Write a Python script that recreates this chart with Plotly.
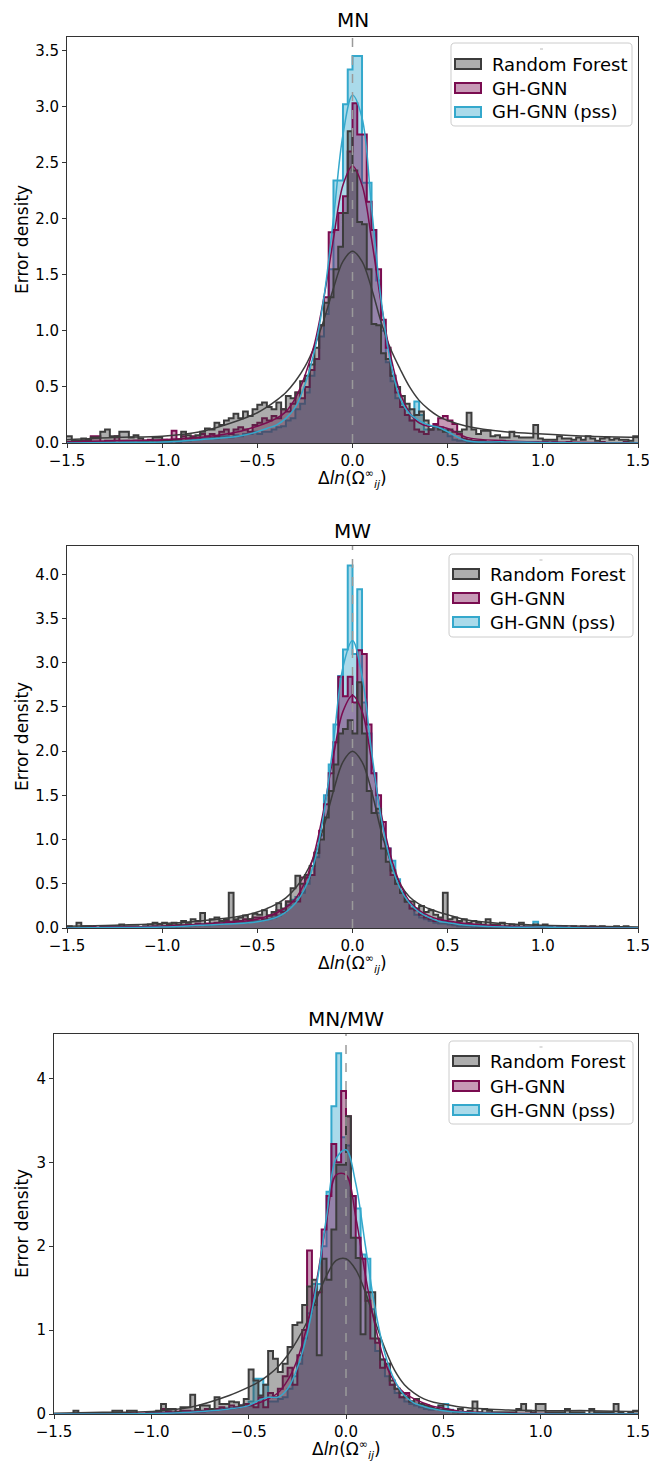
import numpy as np
import plotly.graph_objects as go

# ---- data -----------------------------------------------------------------
# shared histogram bin edges (width 0.025 between -1.5 and 1.5)
BIN_EDGES = np.round(np.arange(-1.5, 1.5 + 1e-9, 0.025), 4)

# density per bin, 10 bins per row (each row = 0.25 units)
MN_RF = [
    0.06, 0.02, 0.02, 0.04, 0.03, 0.05, 0.05, 0.10, 0.12, 0.06,
    0.06, 0.10, 0.10, 0.05, 0.07, 0.04, 0.02, 0.02, 0.05, 0.05,
    0.02, 0.02, 0.03, 0.03, 0.10, 0.07, 0.05, 0.07, 0.10, 0.13,
    0.12, 0.18, 0.16, 0.20, 0.22, 0.26, 0.22, 0.28, 0.24, 0.30,
    0.34, 0.36, 0.32, 0.30, 0.36, 0.30, 0.42, 0.40, 0.45, 0.55,
    0.60, 0.70, 0.85, 1.05, 1.25, 1.30, 1.55, 1.75, 2.05, 2.78,
    2.43, 1.97, 1.95, 1.55, 1.06, 1.05, 0.80, 0.75, 0.60, 0.50,
    0.42, 0.35, 0.30, 0.25, 0.28, 0.20, 0.12, 0.15, 0.12, 0.10,
    0.12, 0.10, 0.10, 0.12, 0.27, 0.12, 0.08, 0.11, 0.11, 0.06,
    0.07, 0.05, 0.05, 0.10, 0.06, 0.05, 0.05, 0.05, 0.16, 0.04,
    0.03, 0.03, 0.03, 0.06, 0.04, 0.04, 0.03, 0.05, 0.03, 0.06,
    0.04, 0.02, 0.04, 0.05, 0.03, 0.04, 0.03, 0.03, 0.02, 0.06,
]
MN_GNN = [
    0.01, 0.01, 0.01, 0.02, 0.02, 0.06, 0.06, 0.01, 0.02, 0.02,
    0.06, 0.02, 0.02, 0.01, 0.02, 0.01, 0.02, 0.03, 0.02, 0.02,
    0.03, 0.02, 0.11, 0.03, 0.06, 0.04, 0.06, 0.05, 0.08, 0.06,
    0.08, 0.06, 0.10, 0.12, 0.08, 0.12, 0.14, 0.12, 0.10, 0.16,
    0.18, 0.22, 0.20, 0.24, 0.22, 0.30, 0.28, 0.35, 0.45, 0.40,
    0.50, 0.65, 0.75, 1.05, 1.30, 1.88, 1.90, 2.05, 2.20, 2.60,
    3.03, 2.75, 2.75, 2.15, 1.90, 1.55, 1.10, 0.85, 0.60, 0.45,
    0.32, 0.25, 0.20, 0.12, 0.10, 0.08, 0.12, 0.17, 0.22, 0.24,
    0.20, 0.17, 0.08, 0.04, 0.03, 0.02, 0.02, 0.02, 0.01, 0.01,
    0.01, 0.02, 0.01, 0.01, 0.01, 0.01, 0.00, 0.01, 0.01, 0.00,
    0.01, 0.00, 0.01, 0.00, 0.00, 0.01, 0.00, 0.00, 0.00, 0.00,
    0.00, 0.00, 0.01, 0.00, 0.00, 0.00, 0.00, 0.01, 0.00, 0.00,
]
MN_PSS = [
    0.00, 0.00, 0.00, 0.00, 0.00, 0.00, 0.00, 0.00, 0.00, 0.01,
    0.00, 0.00, 0.01, 0.00, 0.00, 0.00, 0.01, 0.00, 0.00, 0.01,
    0.01, 0.01, 0.02, 0.01, 0.02, 0.02, 0.03, 0.03, 0.04, 0.04,
    0.05, 0.04, 0.06, 0.06, 0.05, 0.07, 0.06, 0.08, 0.08, 0.10,
    0.08, 0.10, 0.10, 0.12, 0.14, 0.15, 0.20, 0.22, 0.30, 0.35,
    0.45, 0.60, 0.75, 0.95, 1.15, 1.55, 2.34, 2.34, 3.02, 3.33,
    3.45, 3.45, 2.32, 2.32, 1.90, 1.45, 1.00, 0.72, 0.55, 0.40,
    0.35, 0.30, 0.20, 0.37, 0.25, 0.12, 0.12, 0.14, 0.14, 0.12,
    0.06, 0.03, 0.02, 0.02, 0.01, 0.01, 0.01, 0.01, 0.00, 0.00,
    0.00, 0.00, 0.01, 0.00, 0.00, 0.00, 0.00, 0.00, 0.00, 0.00,
    0.00, 0.00, 0.00, 0.00, 0.00, 0.00, 0.00, 0.00, 0.00, 0.00,
    0.00, 0.00, 0.00, 0.00, 0.00, 0.00, 0.00, 0.00, 0.00, 0.00,
]

MW_RF = [
    0.02, 0.00, 0.06, 0.02, 0.02, 0.00, 0.00, 0.02, 0.02, 0.00,
    0.02, 0.04, 0.02, 0.02, 0.02, 0.00, 0.02, 0.04, 0.06, 0.04,
    0.06, 0.04, 0.06, 0.04, 0.08, 0.06, 0.10, 0.08, 0.17, 0.04,
    0.10, 0.12, 0.08, 0.10, 0.40, 0.10, 0.12, 0.14, 0.10, 0.16,
    0.15, 0.20, 0.14, 0.18, 0.28, 0.22, 0.30, 0.45, 0.59, 0.50,
    0.60, 0.70, 0.85, 1.00, 1.25, 1.55, 1.85, 2.20, 2.25, 2.35,
    2.20, 2.78, 2.20, 1.55, 1.30, 1.35, 0.90, 0.75, 0.65, 0.50,
    0.40, 0.30, 0.30, 0.22, 0.25, 0.18, 0.20, 0.15, 0.12, 0.40,
    0.10, 0.12, 0.08, 0.10, 0.06, 0.08, 0.06, 0.04, 0.10, 0.04,
    0.04, 0.06, 0.02, 0.04, 0.02, 0.06, 0.02, 0.02, 0.04, 0.02,
    0.04, 0.02, 0.00, 0.02, 0.02, 0.00, 0.02, 0.00, 0.02, 0.00,
    0.02, 0.00, 0.02, 0.00, 0.00, 0.02, 0.00, 0.02, 0.00, 0.00,
]
MW_GNN = [
    0.00, 0.00, 0.00, 0.00, 0.00, 0.01, 0.00, 0.00, 0.00, 0.01,
    0.00, 0.01, 0.00, 0.01, 0.01, 0.00, 0.01, 0.01, 0.02, 0.01,
    0.02, 0.02, 0.03, 0.02, 0.03, 0.04, 0.03, 0.05, 0.04, 0.05,
    0.05, 0.06, 0.05, 0.08, 0.07, 0.08, 0.08, 0.10, 0.10, 0.12,
    0.12, 0.10, 0.14, 0.15, 0.20, 0.18, 0.30, 0.30, 0.30, 0.57,
    0.57, 0.60, 0.85, 1.10, 1.40, 1.75, 2.10, 2.84, 2.62, 2.84,
    2.55, 3.14, 3.10, 2.30, 1.75, 1.50, 1.20, 0.90, 0.60, 0.50,
    0.40, 0.30, 0.22, 0.20, 0.15, 0.12, 0.10, 0.08, 0.10, 0.08,
    0.06, 0.05, 0.05, 0.04, 0.04, 0.03, 0.02, 0.02, 0.02, 0.01,
    0.01, 0.01, 0.01, 0.01, 0.00, 0.01, 0.00, 0.00, 0.01, 0.00,
    0.00, 0.00, 0.00, 0.00, 0.00, 0.00, 0.00, 0.00, 0.00, 0.00,
    0.00, 0.00, 0.00, 0.00, 0.00, 0.00, 0.00, 0.00, 0.00, 0.00,
]
MW_PSS = [
    0.00, 0.00, 0.00, 0.00, 0.00, 0.00, 0.00, 0.00, 0.00, 0.00,
    0.00, 0.00, 0.00, 0.00, 0.00, 0.00, 0.00, 0.01, 0.00, 0.01,
    0.01, 0.01, 0.01, 0.02, 0.02, 0.02, 0.03, 0.03, 0.04, 0.03,
    0.04, 0.04, 0.05, 0.05, 0.06, 0.06, 0.07, 0.06, 0.08, 0.08,
    0.08, 0.10, 0.10, 0.12, 0.14, 0.20, 0.26, 0.32, 0.35, 0.40,
    0.50, 0.60, 0.80, 1.05, 1.50, 1.85, 2.30, 2.85, 3.15, 4.10,
    3.10, 3.83, 2.55, 2.20, 1.75, 1.30, 1.00, 0.90, 0.76, 0.55,
    0.40, 0.30, 0.22, 0.15, 0.12, 0.10, 0.08, 0.06, 0.05, 0.05,
    0.04, 0.03, 0.02, 0.02, 0.02, 0.01, 0.01, 0.01, 0.01, 0.01,
    0.01, 0.00, 0.00, 0.01, 0.00, 0.00, 0.01, 0.00, 0.07, 0.00,
    0.00, 0.00, 0.00, 0.00, 0.00, 0.00, 0.00, 0.00, 0.00, 0.00,
    0.00, 0.00, 0.00, 0.00, 0.00, 0.00, 0.00, 0.00, 0.00, 0.00,
]

MNMW_RF = [
    0.00, 0.00, 0.00, 0.00, 0.04, 0.00, 0.00, 0.00, 0.00, 0.00,
    0.00, 0.00, 0.04, 0.04, 0.00, 0.04, 0.04, 0.00, 0.00, 0.02,
    0.02, 0.04, 0.12, 0.06, 0.06, 0.02, 0.08, 0.08, 0.23, 0.06,
    0.10, 0.10, 0.06, 0.20, 0.12, 0.12, 0.15, 0.14, 0.10, 0.18,
    0.53, 0.40, 0.22, 0.35, 0.75, 0.66, 0.50, 0.60, 0.80, 1.06,
    1.09, 1.30, 1.52, 1.60, 0.70, 1.85, 1.60, 2.20, 2.97, 2.97,
    3.55, 2.10, 1.86, 0.95, 1.45, 1.45, 0.90, 0.65, 0.60, 0.40,
    0.30, 0.25, 0.20, 0.15, 0.18, 0.12, 0.10, 0.08, 0.06, 0.10,
    0.06, 0.04, 0.02, 0.06, 0.02, 0.04, 0.15, 0.02, 0.06, 0.04,
    0.02, 0.02, 0.02, 0.02, 0.02, 0.06, 0.12, 0.04, 0.02, 0.12,
    0.12, 0.02, 0.02, 0.02, 0.02, 0.06, 0.02, 0.02, 0.02, 0.00,
    0.06, 0.02, 0.02, 0.02, 0.02, 0.12, 0.02, 0.00, 0.02, 0.04,
]
MNMW_GNN = [
    0.00, 0.00, 0.00, 0.00, 0.00, 0.00, 0.00, 0.00, 0.00, 0.00,
    0.00, 0.00, 0.00, 0.00, 0.00, 0.00, 0.00, 0.00, 0.00, 0.01,
    0.01, 0.02, 0.06, 0.03, 0.02, 0.03, 0.04, 0.04, 0.03, 0.05,
    0.04, 0.06, 0.05, 0.06, 0.08, 0.06, 0.10, 0.08, 0.10, 0.12,
    0.10, 0.08, 0.20, 0.08, 0.25, 0.20, 0.30, 0.45, 0.55, 0.35,
    0.70, 1.00, 1.95, 1.30, 1.45, 2.20, 2.60, 3.22, 3.00, 3.85,
    3.55, 2.60, 2.10, 1.85, 1.35, 0.90, 0.85, 0.55, 0.60, 0.35,
    0.30, 0.20, 0.25, 0.15, 0.18, 0.12, 0.10, 0.08, 0.06, 0.05,
    0.05, 0.04, 0.03, 0.02, 0.02, 0.01, 0.01, 0.01, 0.01, 0.01,
    0.01, 0.01, 0.00, 0.00, 0.00, 0.00, 0.00, 0.00, 0.00, 0.00,
    0.00, 0.00, 0.00, 0.00, 0.00, 0.00, 0.00, 0.00, 0.00, 0.00,
    0.00, 0.00, 0.00, 0.00, 0.00, 0.00, 0.00, 0.00, 0.00, 0.00,
]
MNMW_PSS = [
    0.00, 0.00, 0.00, 0.00, 0.00, 0.00, 0.00, 0.00, 0.00, 0.00,
    0.00, 0.00, 0.00, 0.00, 0.00, 0.00, 0.00, 0.00, 0.00, 0.00,
    0.00, 0.00, 0.01, 0.01, 0.01, 0.02, 0.02, 0.02, 0.03, 0.03,
    0.03, 0.04, 0.05, 0.05, 0.06, 0.07, 0.07, 0.08, 0.10, 0.12,
    0.15, 0.42, 0.42, 0.35, 0.15, 0.15, 0.18, 0.20, 0.30, 0.45,
    0.60, 0.90, 1.20, 1.55, 1.55, 2.00, 2.65, 3.67, 4.30, 3.30,
    3.20, 2.60, 2.45, 1.90, 1.85, 1.25, 0.75, 0.65, 0.45, 0.35,
    0.25, 0.20, 0.15, 0.12, 0.10, 0.08, 0.06, 0.05, 0.06, 0.10,
    0.12, 0.05, 0.03, 0.02, 0.02, 0.01, 0.01, 0.01, 0.00, 0.00,
    0.00, 0.00, 0.00, 0.00, 0.00, 0.00, 0.00, 0.00, 0.00, 0.00,
    0.00, 0.00, 0.00, 0.00, 0.00, 0.00, 0.00, 0.00, 0.00, 0.00,
    0.00, 0.00, 0.00, 0.00, 0.00, 0.00, 0.00, 0.00, 0.00, 0.00,
]

# kde curves, read at these x positions
KDE_X = [-1.5, -1.25, -1.0, -0.8, -0.6, -0.5, -0.45, -0.4, -0.35, -0.3, -0.25,
         -0.2, -0.15, -0.1, -0.05, 0.0, 0.05, 0.1, 0.15, 0.2, 0.25, 0.3, 0.35,
         0.4, 0.45, 0.5, 0.6, 0.8, 1.0, 1.25, 1.5]

MN_RF_KDE = [0.03, 0.05, 0.06, 0.10, 0.20, 0.27, 0.32, 0.38, 0.45, 0.55, 0.68,
             0.86, 1.10, 1.38, 1.62, 1.71, 1.62, 1.38, 1.08, 0.84, 0.66, 0.50,
             0.38, 0.30, 0.24, 0.20, 0.15, 0.10, 0.08, 0.06, 0.05]
MN_GNN_KDE = [0.01, 0.02, 0.03, 0.05, 0.10, 0.15, 0.18, 0.22, 0.28, 0.40, 0.60,
              0.88, 1.30, 1.82, 2.30, 2.47, 2.30, 1.82, 1.25, 0.78, 0.45, 0.27,
              0.18, 0.15, 0.15, 0.13, 0.05, 0.02, 0.01, 0.005, 0.0]
MN_PSS_KDE = [0.0, 0.005, 0.01, 0.03, 0.06, 0.10, 0.13, 0.16, 0.22, 0.32, 0.52,
              0.82, 1.30, 2.00, 2.75, 3.10, 2.90, 2.10, 1.28, 0.72, 0.40, 0.26,
              0.20, 0.16, 0.14, 0.10, 0.02, 0.01, 0.005, 0.0, 0.0]

MW_RF_KDE = [0.02, 0.03, 0.05, 0.08, 0.13, 0.18, 0.22, 0.27, 0.34, 0.45, 0.60,
             0.82, 1.15, 1.55, 1.88, 2.00, 1.88, 1.55, 1.10, 0.75, 0.50, 0.35,
             0.27, 0.22, 0.18, 0.15, 0.09, 0.05, 0.03, 0.02, 0.01]
MW_GNN_KDE = [0.0, 0.01, 0.02, 0.04, 0.07, 0.10, 0.13, 0.17, 0.23, 0.33, 0.52,
              0.85, 1.35, 1.95, 2.45, 2.63, 2.45, 1.90, 1.30, 0.82, 0.50, 0.30,
              0.20, 0.14, 0.10, 0.08, 0.05, 0.02, 0.01, 0.005, 0.0]
MW_PSS_KDE = [0.0, 0.005, 0.01, 0.03, 0.05, 0.07, 0.09, 0.12, 0.18, 0.28, 0.45,
              0.75, 1.30, 2.10, 2.95, 3.25, 2.85, 2.00, 1.25, 0.75, 0.45, 0.28,
              0.18, 0.12, 0.08, 0.06, 0.03, 0.01, 0.01, 0.0, 0.0]

MNMW_RF_KDE = [0.01, 0.02, 0.03, 0.08, 0.22, 0.32, 0.38, 0.46, 0.56, 0.70, 0.88,
               1.10, 1.38, 1.65, 1.83, 1.85, 1.72, 1.45, 1.10, 0.78, 0.52, 0.35,
               0.25, 0.18, 0.14, 0.12, 0.08, 0.05, 0.04, 0.04, 0.03]
MNMW_GNN_KDE = [0.0, 0.0, 0.01, 0.02, 0.06, 0.10, 0.13, 0.18, 0.25, 0.40, 0.65,
                1.05, 1.60, 2.30, 2.85, 2.85, 2.35, 1.65, 1.05, 0.62, 0.38, 0.25,
                0.18, 0.13, 0.09, 0.07, 0.03, 0.01, 0.005, 0.0, 0.0]
MNMW_PSS_KDE = [0.0, 0.0, 0.005, 0.02, 0.06, 0.10, 0.16, 0.20, 0.20, 0.30, 0.55,
                0.95, 1.55, 2.35, 3.05, 3.15, 2.75, 2.00, 1.25, 0.72, 0.40, 0.22,
                0.13, 0.09, 0.06, 0.04, 0.02, 0.005, 0.0, 0.0, 0.0]

MODELS = ["Random Forest", "GH-GNN", "GH-GNN (pss)"]
PANEL_TITLES = ["MN", "MW", "MN/MW"]
X_LABEL = ("Δ<i>ln</i>(Ω<sup><span style='font-size:11px'>∞</span></sup>"
           "<sub><span style='font-size:11px'><i>ij</i></span></sub>)")

# ---- styling / geometry ---------------------------------------------------
W, H = 649, 1463
ML, MR, MT, MB = 54, 11, 37, 49
PW, PH = W - ML - MR, H - MT - MB
BASE = H - MB
FONT = "DejaVu Sans"

EDGE = ["#3c3c3c", "#7a0c50", "#34a8cc"]
FILL = ["rgba(60,60,60,0.42)", "rgba(122,12,80,0.42)", "rgba(52,168,204,0.42)"]


def fx(px):
    return (px - ML) / PW


def fy(py):
    return (BASE - py) / PH


panels = [
    dict(hist=[MN_RF, MN_GNN, MN_PSS], kde=[MN_RF_KDE, MN_GNN_KDE, MN_PSS_KDE],
         box=(67, 37, 638, 443), ymax=3.62, dtick=0.5, fmt=".1f",
         leg=(451, 43, 632, 126), rows=(64, 88, 112), title_y=20, xlab_y=479),
    dict(hist=[MW_RF, MW_GNN, MW_PSS], kde=[MW_RF_KDE, MW_GNN_KDE, MW_PSS_KDE],
         box=(67, 546, 638, 928), ymax=4.32, dtick=0.5, fmt=".1f",
         leg=(449, 554, 633, 637), rows=(574, 598, 622), title_y=531, xlab_y=964),
    dict(hist=[MNMW_RF, MNMW_GNN, MNMW_PSS], kde=[MNMW_RF_KDE, MNMW_GNN_KDE, MNMW_PSS_KDE],
         box=(54, 1034, 638, 1414), ymax=4.53, dtick=1, fmt="d",
         leg=(449, 1041, 633, 1124), rows=(1061, 1086, 1110), title_y=1019, xlab_y=1450),
]

fig = go.Figure()
shapes, annotations = [], []
layout_axes = {}


def label(text, x, y, size, **kw):
    d = dict(text=text, x=fx(x), y=fy(y), xref="paper", yref="paper",
             xanchor="center", yanchor="middle", showarrow=False,
             font=dict(family=FONT, size=size, color="black"))
    d.update(kw)
    return d


for k, p in enumerate(panels):
    sfx = "" if k == 0 else str(k + 1)
    xa, ya = "x" + sfx, "y" + sfx
    l, t, r, b = p["box"]

    # histograms: pss underneath, random forest on top
    for i in (2, 1, 0):
        vals = list(p["hist"][i])
        fig.add_trace(go.Scatter(
            x=BIN_EDGES, y=vals + [vals[-1]], mode="lines",
            line=dict(shape="hv", color=EDGE[i], width=2),
            fill="tozeroy", fillcolor=FILL[i],
            xaxis=xa, yaxis=ya, showlegend=False, hoverinfo="skip"))
    for i in (0, 1, 2):
        fig.add_trace(go.Scatter(
            x=KDE_X, y=p["kde"][i], mode="lines",
            line=dict(shape="spline", smoothing=1.0, color=EDGE[i], width=1.5),
            xaxis=xa, yaxis=ya, showlegend=False, hoverinfo="skip"))

    axis_style = dict(showgrid=False, zeroline=False, showline=True, mirror=True,
                      linecolor="#333", linewidth=1, ticks="outside", ticklen=4,
                      tickcolor="#333", ticklabeloverflow="allow",
                      tickfont=dict(family=FONT, size=15, color="black"))
    layout_axes["xaxis" + sfx] = dict(
        domain=[fx(l), fx(r)], anchor=ya, range=[-1.5, 1.5],
        tickvals=[-1.5, -1.0, -0.5, 0.0, 0.5, 1.0, 1.5], tickformat=".1f",
        **axis_style)
    layout_axes["yaxis" + sfx] = dict(
        domain=[fy(b), fy(t)], anchor=xa, range=[0, p["ymax"]],
        tick0=0, dtick=p["dtick"], tickformat=p["fmt"], **axis_style)

    # dashed zero line
    shapes.append(dict(type="line", xref=xa, yref=ya + " domain", x0=0, x1=0,
                       y0=0, y1=1, line=dict(color="#9a9a9a", width=1.5, dash="dash"),
                       layer="above"))

    cx = (l + r) / 2
    annotations.append(label(PANEL_TITLES[k], cx, p["title_y"], 20))
    annotations.append(label(X_LABEL, cx, p["xlab_y"], 17))
    annotations.append(label("Error density", 22, (t + b) / 2, 17, textangle=-90))

    # legend drawn by hand (box, patches, labels)
    L, T, R, B = p["leg"]
    rad = 4

    def P(x, y):
        return f"{fx(x):.5f},{fy(y):.5f}"

    path = (f"M{P(L + rad, T)} L{P(R - rad, T)} Q{P(R, T)} {P(R, T + rad)} "
            f"L{P(R, B - rad)} Q{P(R, B)} {P(R - rad, B)} L{P(L + rad, B)} "
            f"Q{P(L, B)} {P(L, B - rad)} L{P(L, T + rad)} Q{P(L, T)} {P(L + rad, T)} Z")
    shapes.append(dict(type="path", path=path, xref="paper", yref="paper",
                       fillcolor="rgba(255,255,255,0.85)",
                       line=dict(color="#cccccc", width=1), layer="above"))
    mid = (L + R) / 2
    shapes.append(dict(type="line", xref="paper", yref="paper",
                       x0=fx(mid - 1.5), x1=fx(mid + 1.5), y0=fy(T + 6), y1=fy(T + 6),
                       line=dict(color="#bbbbbb", width=1), layer="above"))
    for i, ry in enumerate(p["rows"]):
        shapes.append(dict(type="rect", xref="paper", yref="paper",
                           x0=fx(L + 4), x1=fx(L + 30), y0=fy(ry + 5), y1=fy(ry - 5),
                           fillcolor=FILL[i], line=dict(color=EDGE[i], width=2),
                           layer="above"))
        annotations.append(label(MODELS[i], L + 39, ry, 18, xanchor="left"))

fig.update_layout(
    width=W, height=H,
    margin=dict(l=ML, r=MR, t=MT, b=MB, autoexpand=False),
    paper_bgcolor="white", plot_bgcolor="white",
    showlegend=False, shapes=shapes, annotations=annotations,
    font=dict(family=FONT),
    **layout_axes,
)

# page body margin would shift the figure by 8px
fig.write_html("out.html", config={"displayModeBar": False},
               post_script="document.body.style.margin='0px';")
